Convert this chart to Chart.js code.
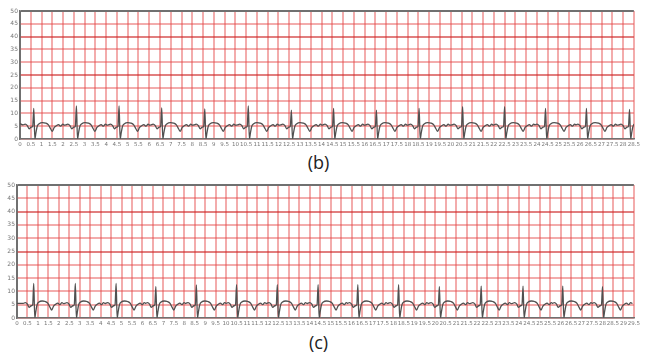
<!DOCTYPE html>
<html>
<head>
<meta charset="utf-8">
<script src="https://cdn.jsdelivr.net/npm/chart.js@4.4.0/dist/chart.umd.min.js"></script>
<style>
  body { margin: 0; background: #fff; width: 647px; height: 356px; position: relative; overflow: hidden; font-family: "Open Sans", sans-serif; }
  .box { position: absolute; left: 0; width: 642px; }
  .cap { position: absolute; width: 647px; text-align: center; font-size: 18px; color: #222; }
</style>
</head>
<body>
<div class="box" style="top:0;height:150px"><canvas id="ecgB"></canvas></div>
<div class="cap" style="left:-5px;top:150px">(b)</div>
<div class="box" style="top:175px;height:154px"><canvas id="ecgC"></canvas></div>
<div class="cap" style="left:-5px;top:330px">(c)</div>
<script>
// one heartbeat: offset from the R peak (s) and amplitude
const beatOffsets = [-0.5, -0.4, -0.3, -0.22, -0.12, -0.05, 0, 0.05, 0.1, 0.16, 0.25, 0.4, 0.55, 0.68, 0.78, 0.86, 0.95, 1.05, 1.15, 1.25, 1.35, 1.43];
const beatShape   = [5.5, 5.8, 5.2, 4.0, 4.6, 5.0, null, 0, 2.5, 5.0, 6.0, 6.4, 6.2, 5.5, 4.0, 3.0, 4.5, 5.2, 5.6, 5.0, 5.8, 5.4];

// (b) R peak times and heights
const beatsB   = [0.64, 2.62, 4.6, 6.58, 8.58, 10.6, 12.6, 14.56, 16.55, 18.53, 20.55, 22.5, 24.4, 26.3, 28.3];
const peaksB   = [12.0, 12.9, 12.9, 12.1, 11.8, 12.9, 11.3, 12.0, 11.3, 12.0, 12.6, 12.6, 12.0, 12.0, 11.6];
// (c) R peak times and heights
const beatsC   = [0.8, 2.79, 4.74, 6.64, 8.58, 10.5, 12.45, 14.4, 16.3, 18.25, 20.2, 22.2, 24.2, 26.1, 28.0];
const peaksC   = [13.0, 13.0, 13.0, 11.8, 12.4, 12.5, 12.5, 12.5, 12.5, 12.5, 11.8, 12.0, 12.0, 12.0, 11.8];

const yTicks = { min: 0, max: 50, step: 5 };

function buildTrace(start, times, peaks) {
  const pts = [{ x: 0, y: start }];
  times.forEach((t, i) => {
    beatOffsets.forEach((o, j) => {
      pts.push({ x: +(t + o).toFixed(3), y: beatShape[j] === null ? peaks[i] : beatShape[j] });
    });
  });
  return pts;
}

const gridRed = 'rgba(228,70,70,0.45)';

function makeChart(id, trace, xMax, yWidth, padTop) {
  new Chart(document.getElementById(id), {
    type: 'line',
    data: {
      datasets: [{
        data: trace,
        borderColor: '#505050',
        borderWidth: 1.3,
        pointRadius: 0,
        cubicInterpolationMode: 'monotone',
        fill: false
      }]
    },
    options: {
      responsive: true,
      maintainAspectRatio: false,
      animation: false,
      layout: { padding: { top: padTop, right: 0, left: 0, bottom: 0 } },
      plugins: { legend: { display: false }, tooltip: { enabled: false } },
      scales: {
        x: {
          type: 'linear',
          min: 0,
          max: xMax,
          afterFit(s) { s.height = 11; },
          border: { color: '#707070', width: 1.5 },
          grid: {
            drawTicks: false,
            lineWidth: 2,
            color: c => c.tick.value === 0 ? '#707070' : gridRed
          },
          ticks: {
            stepSize: 0.5,
            autoSkip: false,
            maxRotation: 0,
            padding: 2,
            color: '#777',
            font: { size: 5.5, family: 'DejaVu Sans' },
            callback: v => String(v)
          }
        },
        y: {
          min: yTicks.min,
          max: yTicks.max,
          afterFit(s) { s.width = yWidth; },
          border: { color: '#707070', width: 1.5 },
          grid: {
            drawTicks: false,
            lineWidth: 2,
            color: c => c.tick.value === 50 ? '#707070' : (c.tick.value === 25 || c.tick.value === 40 ? 'rgba(205,40,40,0.6)' : gridRed)
          },
          ticks: {
            stepSize: yTicks.step,
            padding: 2,
            color: '#777',
            font: { size: 6, family: 'DejaVu Sans' }
          }
        }
      }
    }
  });
}

makeChart('ecgB', buildTrace(6, beatsB, peaksB), 28.5, 20, 11);
makeChart('ecgC', buildTrace(5.5, beatsC, peaksC), 29.5, 17, 10);
</script>
</body>
</html>
